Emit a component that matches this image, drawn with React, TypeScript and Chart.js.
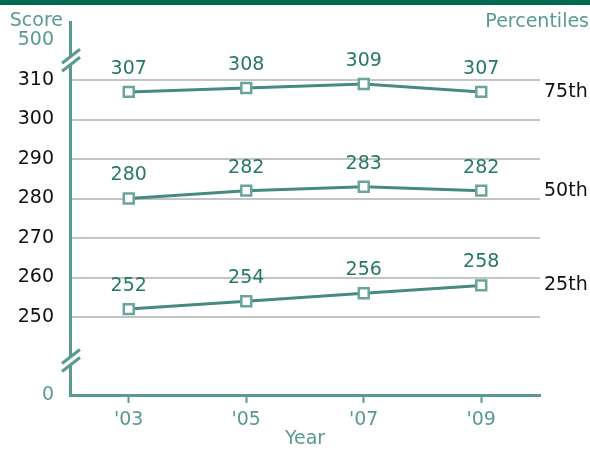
import { useEffect, useRef } from "react";
import Chart from "chart.js/auto";
import type { Chart as ChartInstance, Plugin } from "chart.js";

const years = ["'03", "'05", "'07", "'09"];
const p75 = [307, 308, 309, 307];
const p50 = [280, 282, 283, 282];
const p25 = [252, 254, 256, 258];
const percentileNames = ["75th", "50th", "25th"];
const gridTicks = [250, 260, 270, 280, 290, 300, 310];

// broken axis: the bottom stands for 0, a tick near the top for 500
const axisMin = 230.25;
const axisMax = 324.7;
const zeroValue = 230.25;
const topValue = 320.1;
const breakValues = [315, 239];

const FONT = "DejaVu Sans";
const TEAL = "#5a9a92";
const LINE = "#468a80";
const LABEL_GREEN = "#267a5e";
const GRID = "#c4c4c4";

const seriesList = [p75, p50, p25];

const decorPlugin: Plugin<"line"> = {
  id: "decor",
  afterDraw(chart: ChartInstance<"line">) {
    const { ctx, chartArea } = chart;
    const y = chart.scales.y;
    ctx.save();

    // axis breaks
    breakValues.forEach((v) => {
      const cx = chartArea.left + 1;
      const cy = y.getPixelForValue(v);
      const dx = 9;
      const dy = -7;
      ctx.lineCap = "butt";
      ctx.strokeStyle = "#ffffff";
      ctx.lineWidth = 6;
      ctx.beginPath();
      ctx.moveTo(cx - dx, cy - dy + 0.5);
      ctx.lineTo(cx + dx, cy + dy + 0.5);
      ctx.stroke();
      ctx.strokeStyle = TEAL;
      ctx.lineWidth = 3;
      [-4, 4].forEach((o) => {
        ctx.beginPath();
        ctx.moveTo(cx - dx, cy - dy + o);
        ctx.lineTo(cx + dx, cy + dy + o);
        ctx.stroke();
      });
    });

    // value labels
    ctx.font = `19px ${FONT}`;
    ctx.textAlign = "center";
    ctx.textBaseline = "middle";
    ctx.fillStyle = LABEL_GREEN;
    chart.data.datasets.forEach((ds, di) => {
      const meta = chart.getDatasetMeta(di);
      meta.data.forEach((el, i) => {
        const p = el as unknown as { x: number; y: number };
        ctx.fillText(String(ds.data[i]), p.x, p.y - 23);
      });
    });

    // percentile names at the right
    ctx.textAlign = "left";
    ctx.fillStyle = "#111111";
    seriesList.forEach((s, i) => {
      const last = s[s.length - 1];
      ctx.fillText(percentileNames[i], chartArea.right + 4, y.getPixelForValue(last));
    });

    // headers
    ctx.fillStyle = TEAL;
    ctx.textAlign = "right";
    ctx.fillText("Score", 63, 21);
    ctx.fillText("Percentiles", 589, 22);
    ctx.restore();
  },
};

export default function App() {
  const canvasRef = useRef<HTMLCanvasElement | null>(null);

  useEffect(() => {
    document.body.style.margin = "0";
    const canvas = canvasRef.current;
    if (!canvas) return;
    const lineStyle = {
      borderColor: LINE,
      borderWidth: 3,
      pointStyle: "rect" as const,
      pointRadius: 7,
      pointBorderWidth: 2.5,
      pointBackgroundColor: "#ffffff",
      pointBorderColor: "#6aa59c",
      tension: 0,
    };
    const chart = new Chart(canvas, {
      type: "line",
      data: {
        labels: years,
        datasets: [
          { label: "75th", data: p75, ...lineStyle },
          { label: "50th", data: p50, ...lineStyle },
          { label: "25th", data: p25, ...lineStyle },
        ],
      },
      plugins: [decorPlugin],
      options: {
        animation: false,
        responsive: true,
        maintainAspectRatio: false,
        layout: { padding: { top: 22, right: 50, left: 0, bottom: 0 } },
        plugins: {
          legend: { display: false },
          tooltip: { enabled: false },
        },
        scales: {
          x: {
            type: "category",
            offset: true,
            afterFit: (s) => {
              s.height = 56;
              s.paddingLeft = 0;
              s.paddingRight = 0;
            },
            border: { color: TEAL, width: 3 },
            grid: {
              drawOnChartArea: false,
              drawTicks: true,
              tickLength: 8,
              tickWidth: 2,
              tickColor: TEAL,
            },
            ticks: {
              color: TEAL,
              padding: 6,
              font: { family: FONT, size: 19 },
            },
            title: {
              display: true,
              text: "Year",
              color: TEAL,
              font: { family: FONT, size: 19 },
              padding: { top: 0, bottom: 1 },
            },
          },
          y: {
            type: "linear",
            min: axisMin,
            max: axisMax,
            afterFit: (s) => {
              s.width = 70;
              s.paddingTop = 0;
              s.paddingBottom = 0;
            },
            afterBuildTicks: (s) => {
              s.ticks = [zeroValue, ...gridTicks, topValue].map((value) => ({ value }));
            },
            border: { color: TEAL, width: 3 },
            grid: {
              drawTicks: false,
              lineWidth: 2,
              color: (c) =>
                gridTicks.includes(c.tick?.value as number) ? GRID : "rgba(0,0,0,0)",
            },
            ticks: {
              padding: 16,
              font: { family: FONT, size: 19 },
              color: (c) =>
                gridTicks.includes(c.tick?.value as number) ? "#111111" : TEAL,
              callback: (v) => {
                if (v === zeroValue) return "0";
                if (v === topValue) return "500";
                return String(v);
              },
            },
          },
        },
      },
    });
    return () => chart.destroy();
  }, []);

  return (
    <div style={{ position: "relative", width: 590, height: 451, background: "#fff" }}>
      <div
        style={{
          position: "absolute",
          left: 0,
          top: 0,
          width: 590,
          height: 5,
          background: "#006b50",
        }}
      />
      <canvas ref={canvasRef} />
    </div>
  );
}
